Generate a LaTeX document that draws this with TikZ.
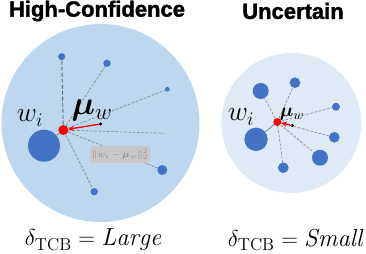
\documentclass[tikz,border=0pt]{standalone}
\usepackage{amsmath,bm}
\usepackage{fontspec}
\usepackage{tikz}
\usetikzlibrary{arrows.meta, positioning}
\newfontfamily\headfont[FakeBold=1.6]{Liberation Sans Bold}
\definecolor{confFill}{HTML}{BDD7EE}
\definecolor{uncFill}{HTML}{DEEBF7}
\definecolor{ptBlue}{HTML}{4472C4}
\definecolor{lineGray}{HTML}{808080}
\definecolor{boxGray}{HTML}{C8C8C8}
\definecolor{boxText}{HTML}{8C8C8C}

\begin{document}
\begin{tikzpicture}[x=0.75pt, y=-0.75pt,
    cluster/.style={circle, fill=#1, inner sep=0pt},
    pt/.style={circle, fill=ptBlue, inner sep=0pt, minimum size=#1},
    anchordot/.style={circle, fill=red, inner sep=0pt, minimum size=#1},
    meandot/.style={circle, fill=black, inner sep=0pt, minimum size=2.6pt},
    link/.style={lineGray, line width=0.45pt, dash pattern=on 2pt off 1.2pt},
    strong link/.style={black!60, line width=0.7pt, dash pattern=on 3pt off 1.5pt},
    pull/.style={red, line width=1pt, -{Stealth[length=4pt, width=4pt]}},
    title/.style={font=\headfont\fontsize{16.5}{18}\selectfont},
    mathlbl/.style={font=\fontsize{#1}{#1}\selectfont, inner sep=0pt},
    normbox/.style={rounded corners=2pt, fill=boxGray, text=boxText,
        font=\fontsize{7.3}{8}\selectfont, minimum width=45pt, minimum height=12.5pt, inner sep=1pt},
]
\useasboundingbox (0,0) rectangle (366,253);

% Titles
\node[title] (titleL) at (97, 11) {High-Confidence};
\node[title] (titleR) at (293, 11) {Uncertain};

% ── High-confidence cluster ────────────────────────────────────────
\node[cluster=confFill, minimum size=148.5pt] (circL) at (100.5, 123) {};

\node[anchordot=7.5pt] (wL) at (63.3, 130) {};
\node[meandot] (muL) at (100.7, 124) {};
\node[pt=24pt]  (bigL) at (44, 145.7) {};
\node[pt=5.3pt] (l1) at (61.7, 56.7) {};
\node[pt=5.5pt] (l2) at (107, 63.3) {};
\node[pt=3.5pt] (l3) at (167.3, 89.3) {};
\node[pt=7.5pt] (l4) at (162.3, 170) {};
\node[pt=5.5pt] (l5) at (94.3, 191.7) {};
\coordinate (l6) at (163.3, 133.3);

\draw[strong link] (wL) -- (l1);
\draw[link] (wL) -- (l2);
\draw[link] (wL) -- (l3);
\draw[link] (wL) -- (l4);
\draw[link] (wL) -- (l5);
\draw[link] (wL) -- (l6);
\draw[lineGray, line width=0.6pt] (wL) -- (bigL);
\draw[pull] (muL) -- (wL);

\node[mathlbl=20] (wiL) at (30, 118) {$w_i$};
\node[mathlbl=23] (mulblL) at (92, 110) {$\bm{\mu}_w$};
\node[normbox] (dist) at (120, 154.5) {$\|w_i - \bm{\mu}_w\|_2^2$};

% ── Uncertain cluster ──────────────────────────────────────────────
\node[cluster=uncFill, minimum size=105pt] (circR) at (291.3, 123) {};

\node[anchordot=6pt] (wR) at (277.3, 122) {};
\node[meandot] (muR) at (292.3, 125.5) {};
\node[pt=17.5pt] (bigR) at (256, 139.3) {};
\node[pt=12pt] (r1) at (260.7, 91) {};
\node[pt=8pt]  (r2) at (295, 82.7) {};
\node[pt=6pt]  (r3) at (336, 106.7) {};
\node[pt=8pt]  (r4) at (334.3, 137.3) {};
\node[pt=12pt] (r5) at (320, 157.7) {};
\node[pt=8pt]  (r6) at (283.3, 167.7) {};

\foreach \n in {r1, r2, r3, r4, r5, r6}
    \draw[link] (wR) -- (\n);
\draw[lineGray, line width=0.6pt] (wR) -- (bigR);
\draw[pull] (muR) -- (wR);

\node[mathlbl=20] (wiR) at (241, 117) {$w_i$};
\node[mathlbl=14.5] (mulblR) at (292, 114.5) {$\bm{\mu}_w$};

% Bottom captions
\node[mathlbl=18.5] (capL) at (93, 240) {$\delta_{\mathrm{TCB}} = \mathit{Large}$};
\node[mathlbl=18.5] (capR) at (295, 240) {$\delta_{\mathrm{TCB}} = \mathit{Small}$};

\end{tikzpicture}
\end{document}
